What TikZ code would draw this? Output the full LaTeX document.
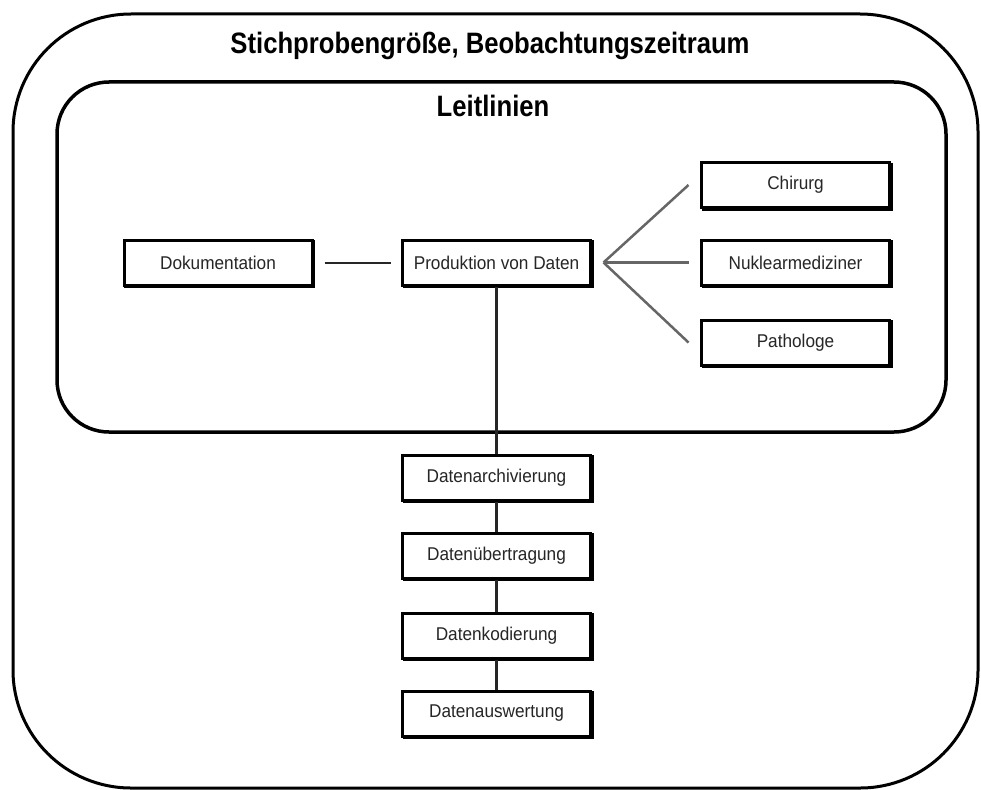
\documentclass[tikz,border=0pt]{standalone}
\usepackage{fontspec}
\setmainfont{Liberation Sans}
\newfontfamily\titlefont[FakeStretch=0.87]{Liberation Sans}
\newfontfamily\boxfont[FakeStretch=0.93]{Liberation Sans}
\usetikzlibrary{shadows}
\begin{document}
\begin{tikzpicture}[x=1pt,y=-1pt,
  box/.style={draw=black, line width=3pt, fill=white, minimum width=188pt,
    minimum height=45pt, inner sep=0pt, text=black!85,
    font=\boxfont\fontsize{18.5}{21}\selectfont,
    general shadow={shadow xshift=1.5pt, shadow yshift=-1.5pt, draw=black, line width=3pt}},
  conn/.style={line width=2.5pt, draw=black!85},
  fanline/.style={line width=2.5pt, draw=black!60},
  frame/.style={draw=black, line width=3pt},
  titletext/.style={anchor=base, inner sep=0pt, font=\titlefont\bfseries\fontsize{29.5}{33}\selectfont}]
\useasboundingbox (0,0) rectangle (981,789);
\fill[white] (0,0) rectangle (981,789);
% frames
\draw[frame, rounded corners=118pt] (13,14) rectangle (978,788);
\draw[frame, line width=3.5pt, rounded corners=52pt] (57,82) rectangle (946,432);
% titles
\node[titletext] (t1) at (490,53.5) {Stichprobengröße, Beobachtungszeitraum};
\node[titletext] (t2) at (493,117) {Leitlinien};
% boxes
\node[box] (doku) at (218,262.5) {Dokumentation};
\node[box] (prod) at (496.5,262.5) {Produktion von Daten};
\node[box] (chir) at (795.5,185) {Chirurg};
\node[box] (nukl) at (795.5,262.5) {Nuklearmediziner};
\node[box] (path) at (795.5,342.5) {Pathologe};
\node[box] (arch) at (496.5,477.5) {Datenarchivierung};
\node[box] (uebe) at (496.5,555.5) {Datenübertragung};
\node[box] (kodi) at (496.5,635.5) {Datenkodierung};
\node[box] (ausw) at (496.5,713.5) {Datenauswertung};
% connectors
\coordinate (fan) at ([xshift=11.5pt]prod.east);
\draw[conn, line width=2pt, shorten <=11pt, shorten >=10pt] (doku.east) -- (prod.west);
\draw[fanline] (fan) -- ([xshift=-11.5pt]chir.west);
\draw[fanline] (fan) -- ([xshift=-11.5pt]nukl.west);
\draw[fanline] (fan) -- ([xshift=-11.5pt]path.west);
\draw[conn, line width=3pt] (prod.south) -- (arch.north);
\draw[conn] (arch.south) -- (uebe.north);
\draw[conn] (uebe.south) -- (kodi.north);
\draw[conn] (kodi.south) -- (ausw.north);
\end{tikzpicture}
\end{document}
